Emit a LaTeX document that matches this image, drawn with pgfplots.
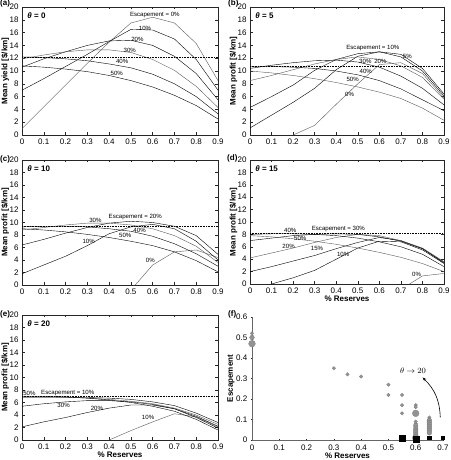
\documentclass[border=0pt]{standalone}
\usepackage{pgfplots}
\pgfplotsset{compat=1.18}
\usepackage{fontspec}
\setmainfont{Liberation Sans}
\usetikzlibrary{arrows.meta}
\newcommand\lab{\fontsize{6.1}{7}\selectfont}
\newcommand\tk{\fontsize{8}{9}\selectfont}
\pgfplotsset{
  base/.style={scale only axis,
    /pgf/number format/assume math mode=true,
    tick label style={font=\tk},
    label style={font=\bfseries\tk},
    xlabel style={yshift=4.5pt},
    tick align=inside, major tick length=2.5pt,
    axis line style={black!85, line width=0.45pt},
    every tick/.style={black!85, line width=0.4pt},
  },
  panel/.style={base, xmin=0,xmax=0.9,ymin=0,ymax=20,
    xtick={0,0.1,0.2,0.3,0.4,0.5,0.6,0.7,0.8,0.9},
    ytick={0,2,4,6,8,10,12,14,16,18,20},
    cycle list={{black!65, line width=0.4pt, mark=none}},
    ylabel={Mean profit [\$/km]},
    ylabel style={at={(axis description cs:-0.085,0.5)}, anchor=center},
  },
  opt/.style={black, densely dotted, line width=0.6pt},
}
\tikzset{plab/.style={font=\bfseries\tk, anchor=north west, inner sep=0pt}}
\begin{document}
\begin{tikzpicture}
\useasboundingbox (0pt,0pt) rectangle (450pt,460pt);
% ---------------- (a)
\begin{axis}[panel, at={(22pt,325pt)}, anchor=south west, width=196pt, height=128pt,
  ylabel={Mean yield [\$/km]}]
\addplot coordinates {(0,1)(0.1,4.4)(0.2,7.8)(0.3,11.2)(0.4,14.5)(0.5,17.5)(0.6,18.4)(0.7,17.5)(0.8,14.3)(0.9,8.5)};
\addplot coordinates {(0,7)(0.1,8.8)(0.2,10.7)(0.3,12.6)(0.4,14.6)(0.5,16.5)(0.6,16.4)(0.7,15.0)(0.8,11.8)(0.9,7.0)};
\addplot coordinates {(0,10.6)(0.1,11.9)(0.2,13.0)(0.3,14.0)(0.4,14.7)(0.5,14.8)(0.6,14.0)(0.7,12.3)(0.8,9.6)(0.9,5.5)};
\addplot coordinates {(0,11.9)(0.1,12.5)(0.2,13.0)(0.3,13.3)(0.4,13.3)(0.5,12.9)(0.6,11.8)(0.7,10.1)(0.8,7.6)(0.9,4.3)};
\addplot coordinates {(0,12.2)(0.1,12.1)(0.2,11.9)(0.3,11.6)(0.4,11.1)(0.5,10.5)(0.6,9.5)(0.7,8.0)(0.8,6.0)(0.9,3.3)};
\addplot coordinates {(0,10.8)(0.1,10.6)(0.2,10.3)(0.3,9.9)(0.4,9.3)(0.5,8.5)(0.6,7.5)(0.7,6.2)(0.8,4.6)(0.9,2.5)};
\addplot[opt] coordinates {(0,12.1)(0.9,12.1)};
\node[font=\lab] at (axis cs:0.61,18.8) {Escapement = 0\%};
\node[font=\lab] at (axis cs:0.565,16.7) {10\%};
\node[font=\lab] at (axis cs:0.53,15.0) {20\%};
\node[font=\lab] at (axis cs:0.495,13.2) {30\%};
\node[font=\lab] at (axis cs:0.46,11.5) {40\%};
\node[font=\lab] at (axis cs:0.435,9.6) {50\%};
\node[anchor=north west, font=\bfseries\tk] at (rel axis cs:0.01,0.985) {\textit{θ} = 0};
\end{axis}
% ---------------- (b)
\begin{axis}[panel, at={(250pt,325pt)}, anchor=south west, width=194pt, height=128pt]
\addplot coordinates {(0.2,0)(0.3,1.5)(0.4,4.8)(0.5,8.0)(0.6,11.0)(0.7,11.3)(0.8,9.6)(0.9,5.8)};
\addplot coordinates {(0,1.1)(0.1,3.1)(0.2,5.1)(0.3,7.3)(0.4,10.2)(0.5,12.3)(0.6,13.0)(0.7,12.6)(0.8,10.4)(0.9,6.4)};
\addplot coordinates {(0,4.3)(0.1,6.0)(0.2,7.8)(0.3,10.1)(0.4,11.8)(0.5,12.7)(0.6,13.0)(0.7,12.2)(0.8,10.0)(0.9,6.1)};
\addplot coordinates {(0,8.5)(0.1,9.3)(0.2,10.2)(0.3,11.1)(0.4,11.8)(0.5,12.2)(0.6,11.8)(0.7,10.8)(0.8,9.0)(0.9,5.6)};
\addplot coordinates {(0,10.4)(0.1,10.9)(0.2,11.3)(0.3,11.6)(0.4,11.7)(0.5,11.4)(0.6,10.6)(0.7,9.2)(0.8,7.3)(0.9,4.7)};
\addplot coordinates {(0,10.7)(0.1,10.7)(0.2,10.6)(0.3,10.4)(0.4,10.0)(0.5,9.4)(0.6,8.5)(0.7,7.2)(0.8,5.5)(0.9,3.8)};
\addplot coordinates {(0,10.0)(0.1,9.7)(0.2,9.3)(0.3,8.8)(0.4,8.2)(0.5,7.5)(0.6,6.7)(0.7,5.7)(0.8,4.2)(0.9,2.3)};
\addplot[opt] coordinates {(0,10.7)(0.9,10.7)};
\node[font=\lab] at (axis cs:0.57,13.6) {Escapement = 10\%};
\node[font=\lab] at (axis cs:0.73,12.3) {5\%};
\node[font=\lab] at (axis cs:0.535,11.5) {30\%};
\node[font=\lab] at (axis cs:0.605,11.5) {20\%};
\node[font=\lab] at (axis cs:0.537,9.9) {40\%};
\node[font=\lab] at (axis cs:0.476,8.7) {50\%};
\node[font=\lab] at (axis cs:0.462,6.3) {0\%};
\node[anchor=north west, font=\bfseries\tk] at (rel axis cs:0.01,0.985) {\textit{θ} = 5};
\end{axis}
% ---------------- (c)
\begin{axis}[panel, at={(22pt,175pt)}, anchor=south west, width=196pt, height=125pt]
\addplot coordinates {(0.52,0)(0.6,3.2)(0.7,5.3)(0.8,5.6)(0.9,4.4)};
\addplot coordinates {(0,1.8)(0.1,3.2)(0.2,4.6)(0.3,6.3)(0.4,8.2)(0.5,9.3)(0.6,9.7)(0.7,9.0)(0.8,7.0)(0.9,4.0)};
\addplot coordinates {(0,6.4)(0.1,7.3)(0.2,8.3)(0.3,9.2)(0.4,9.9)(0.5,10.2)(0.6,10.0)(0.7,9.4)(0.8,7.9)(0.9,4.9)};
\addplot coordinates {(0,8.8)(0.1,9.2)(0.2,9.6)(0.3,9.9)(0.4,9.9)(0.5,9.6)(0.6,9.0)(0.7,7.9)(0.8,6.2)(0.9,3.6)};
\addplot coordinates {(0,9.3)(0.1,9.4)(0.2,9.4)(0.3,9.3)(0.4,9.0)(0.5,8.6)(0.6,7.8)(0.7,6.6)(0.8,5.0)(0.9,3.0)};
\addplot coordinates {(0,9.0)(0.1,8.8)(0.2,8.5)(0.3,8.1)(0.4,7.6)(0.5,7.0)(0.6,6.3)(0.7,5.3)(0.8,3.9)(0.9,2.1)};
\addplot[opt] coordinates {(0,9.4)(0.9,9.4)};
\node[font=\lab] at (axis cs:0.337,10.4) {30\%};
\node[font=\lab] at (axis cs:0.52,10.8) {Escapement = 20\%};
\node[font=\lab] at (axis cs:0.54,8.7) {40\%};
\node[font=\lab] at (axis cs:0.474,7.9) {50\%};
\node[font=\lab] at (axis cs:0.306,6.9) {10\%};
\node[font=\lab] at (axis cs:0.589,4.0) {0\%};
\node[anchor=north west, font=\bfseries\tk] at (rel axis cs:0.01,0.985) {\textit{θ} = 10};
\end{axis}
% ---------------- (d)
\begin{axis}[panel, at={(250pt,176pt)}, anchor=south west, width=194pt, height=124pt,
  xlabel={\% Reserves}]
\addplot coordinates {(0.74,0)(0.8,1.3)(0.9,1.7)};
\addplot coordinates {(0.1,0)(0.2,1.0)(0.3,2.2)(0.4,4.0)(0.5,5.8)(0.6,6.9)(0.7,6.8)(0.8,5.5)(0.9,3.3)};
\addplot coordinates {(0,2.0)(0.1,2.8)(0.2,3.7)(0.3,4.6)(0.4,5.7)(0.5,6.7)(0.6,7.5)(0.7,7.0)(0.8,5.7)(0.9,3.5)};
\addplot coordinates {(0,4.2)(0.1,5.0)(0.2,5.8)(0.3,6.7)(0.4,7.5)(0.5,8.0)(0.6,7.8)(0.7,7.0)(0.8,5.8)(0.9,3.6)};
\addplot coordinates {(0,7.0)(0.1,7.4)(0.2,7.8)(0.3,8.0)(0.4,8.1)(0.5,8.0)(0.6,7.6)(0.7,6.9)(0.8,5.7)(0.9,3.4)};
\addplot coordinates {(0,8.0)(0.1,8.1)(0.2,8.1)(0.3,8.0)(0.4,7.8)(0.5,7.4)(0.6,6.8)(0.7,6.0)(0.8,4.8)(0.9,2.8)};
\addplot coordinates {(0,7.8)(0.1,7.6)(0.2,7.3)(0.3,6.9)(0.4,6.4)(0.5,5.8)(0.6,5.1)(0.7,4.3)(0.8,3.3)(0.9,2.0)};
\addplot[opt] coordinates {(0,8.1)(0.9,8.1)};
\node[font=\lab] at (axis cs:0.187,8.6) {40\%};
\node[font=\lab] at (axis cs:0.41,8.8) {Escapement = 30\%};
\node[font=\lab] at (axis cs:0.233,7.3) {50\%};
\node[font=\lab] at (axis cs:0.179,6.1) {20\%};
\node[font=\lab] at (axis cs:0.311,5.7) {15\%};
\node[font=\lab] at (axis cs:0.432,4.8) {10\%};
\node[font=\lab] at (axis cs:0.773,1.5) {0\%};
\node[anchor=north west, font=\bfseries\tk] at (rel axis cs:0.01,0.985) {\textit{θ} = 15};
\end{axis}
% ---------------- (e)
\begin{axis}[panel, at={(22pt,20pt)}, anchor=south west, width=196pt, height=125pt,
  xlabel={\% Reserves}]
\addplot coordinates {(0.4,0)(0.5,1.5)(0.6,2.9)(0.7,4.2)(0.8,3.7)(0.9,2.1)};
\addplot coordinates {(0,2.1)(0.1,2.9)(0.2,3.6)(0.3,4.4)(0.4,5.1)(0.5,5.6)(0.6,5.6)(0.7,5.0)(0.8,3.8)(0.9,2.2)};
\addplot coordinates {(0,5.4)(0.1,5.8)(0.2,6.1)(0.3,6.3)(0.4,6.3)(0.5,6.1)(0.6,5.7)(0.7,5.0)(0.8,3.6)(0.9,1.9)};
\addplot coordinates {(0,6.9)(0.1,6.9)(0.2,6.85)(0.3,6.7)(0.4,6.5)(0.5,6.2)(0.6,5.8)(0.7,5.1)(0.8,4.0)(0.9,2.5)};
\addplot coordinates {(0,7.0)(0.1,7.0)(0.2,6.9)(0.3,6.7)(0.4,6.4)(0.5,6.0)(0.6,5.4)(0.7,4.6)(0.8,3.3)(0.9,1.6)};
\addplot coordinates {(0,6.8)(0.1,6.8)(0.2,6.8)(0.3,6.8)(0.4,6.7)(0.5,6.5)(0.6,6.1)(0.7,5.5)(0.8,4.3)(0.9,2.8)};
\addplot[opt] coordinates {(0,7.0)(0.9,7.0)};
\node[font=\lab] at (axis cs:0.034,7.5) {50\%};
\node[font=\lab] at (axis cs:0.21,7.5) {Escapement = 10\%};
\node[font=\lab] at (axis cs:0.191,5.6) {30\%};
\node[font=\lab] at (axis cs:0.344,5.1) {20\%};
\node[font=\lab] at (axis cs:0.579,3.6) {10\%};
\node[anchor=north west, font=\bfseries\tk] at (rel axis cs:0.01,0.985) {\textit{θ} = 20};
\end{axis}
% ---------------- (f)
\begin{axis}[base, at={(252pt,20pt)}, anchor=south west, width=191pt, height=123pt,
  xmin=0, xmax=0.7, ymin=0, ymax=0.6, axis lines=left, axis line style={-, black!60},
  xtick={0,0.1,0.2,0.3,0.4,0.5,0.6,0.7}, ytick={0,0.1,0.2,0.3,0.4,0.5,0.6},
  clip=false, xlabel={\% Reserves}, ylabel={Escapement},
  ylabel style={at={(axis description cs:-0.11,0.5)}, anchor=center}]
\addplot[only marks, mark=*, mark size=1.8pt, mark options={fill=gray!85, draw=gray!95!black, line width=0.2pt}] coordinates {
 (0,0.52)(0.3,0.35)(0.35,0.32)(0.4,0.31)(0.5,0.27)(0.5,0.22)(0.55,0.22)(0.55,0.17)(0.55,0.13)
 (0.6,0.17)(0.6,0.16)(0.6,0.09)(0.6,0.08)(0.65,0.11)(0.65,0.10)};
\addplot[only marks, mark=*, mark size=2.4pt, mark options={fill=gray!85, draw=gray!95!black, line width=0.2pt}] coordinates {
 (0,0.50)(0.6,0.07)(0.6,0.055)(0.6,0.045)(0.6,0.035)(0.6,0.025)(0.6,0.015)
 (0.65,0.095)(0.65,0.085)(0.65,0.075)(0.65,0.065)(0.65,0.055)(0.65,0.045)(0.65,0.035)};
\addplot[only marks, mark=*, mark size=3.4pt, mark options={fill=gray!85, draw=gray!95!black, line width=0.2pt}] coordinates {
 (0,0.47)(0.6,0.13)(0.6,0.01)};
\addplot[only marks, mark=square*, mark size=3pt, mark options={fill=black, draw=black}] coordinates {(0.55,0.01)(0.6,0.004)};
\addplot[only marks, mark=square*, mark size=1.7pt, mark options={fill=black, draw=black}] coordinates {(0.65,0.01)(0.7,0.01)};
\draw[-{Stealth[length=4pt,width=3pt]}, line width=0.6pt] (axis cs:0.69,0.11) to[bend right=22] (axis cs:0.625,0.305);
\node at (axis cs:0.59,0.337) {\fontsize{8}{9}\selectfont$\theta\rightarrow 20$};
\end{axis}
\node[plab] at (0pt,460pt) {(a)};
\node[plab] at (228pt,460pt) {(b)};
\node[plab] at (0pt,304pt) {(c)};
\node[plab] at (227pt,305pt) {(d)};
\node[plab] at (0pt,149pt) {(e)};
\node[plab] at (228pt,149pt) {(f)};
\end{tikzpicture}
\end{document}
